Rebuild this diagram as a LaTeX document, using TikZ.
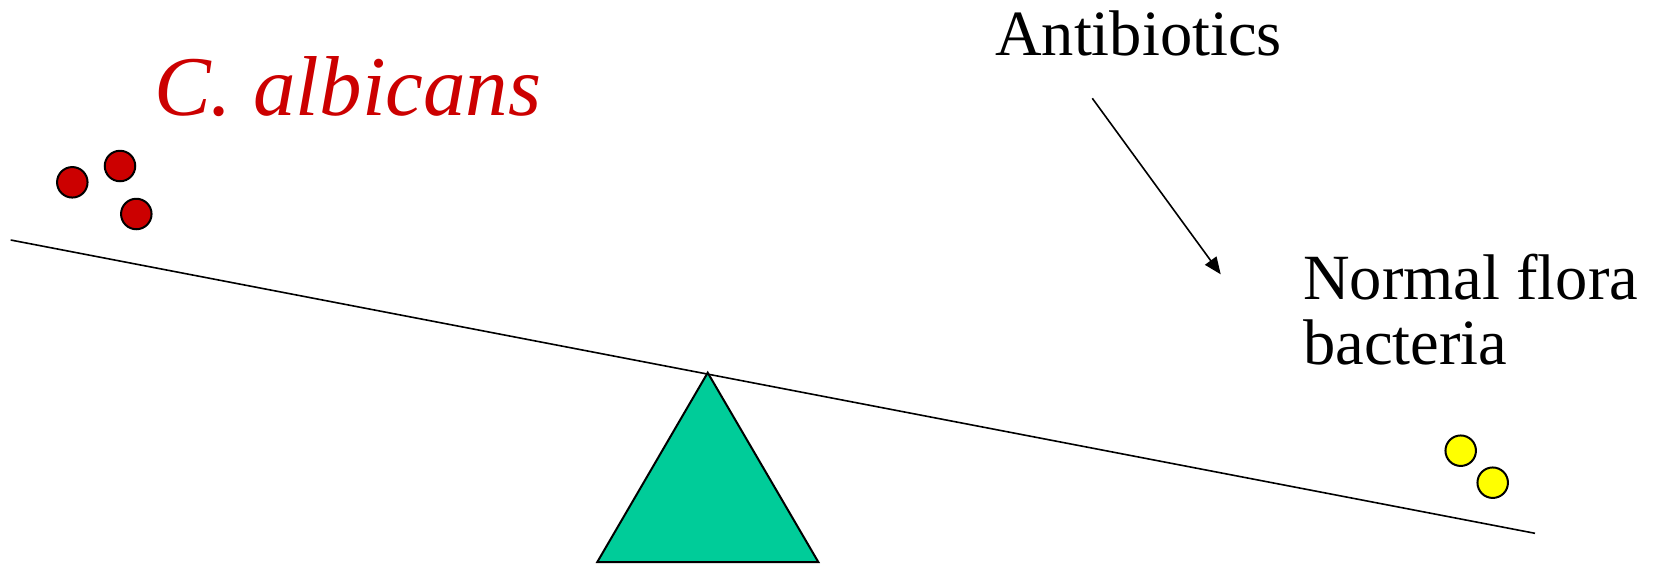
\documentclass[tikz,border=0pt]{standalone}
\usepackage{fontspec}
\setmainfont{Liberation Serif}
\usetikzlibrary{arrows.meta}
\definecolor{candred}{HTML}{CC0000}
\definecolor{florayellow}{HTML}{FFFF00}
\definecolor{fulcrumgreen}{HTML}{00CC99}
\begin{document}
\begin{tikzpicture}[x=1pt,y=-1pt,
  cell/.style={circle,draw=black,line width=2pt,minimum size=30.5pt,inner sep=0pt},
  redcell/.style={cell,fill=candred},
  yellowcell/.style={cell,fill=florayellow},
  label/.style={inner sep=0pt,anchor=base west,font=\fontsize{64.5}{65}\selectfont}]
\useasboundingbox (0,0) rectangle (1661,566);
% fulcrum
\draw[line width=2pt,fill=fulcrumgreen,line join=miter] (707.7,372.7) -- (818.3,562) -- (597.3,562) -- cycle;
% beam
\coordinate (beamL) at (10.7,240);
\coordinate (beamR) at (1535,533.3);
\draw[line width=1.6pt] (beamL) -- (beamR);
% C. albicans cells
\node[redcell] (r1) at (72.3,182.3) {};
\node[redcell] (r2) at (120,166) {};
\node[redcell] (r3) at (136.3,214) {};
% normal flora cells
\node[yellowcell] (y1) at (1460.7,450.7) {};
\node[yellowcell] (y2) at (1492.7,482.7) {};
% texts
\node[inner sep=0pt,anchor=base west,text=candred,font=\fontsize{85}{90}\selectfont\itshape] (calb) at (154,115) {C. albicans};
\node[label] (anti) at (995,55) {Antibiotics};
\node[label] (nf1) at (1303,299) {Normal flora};
\node[label] (nf2) at (1303,364) {bacteria};
% arrow
\coordinate (arrS) at (1092.3,98.3);
\coordinate (arrE) at (1220.7,274.3);
\draw[line width=1.6pt,-{Triangle[length=17pt,width=14pt]}] (arrS) -- (arrE);
\end{tikzpicture}
\end{document}
